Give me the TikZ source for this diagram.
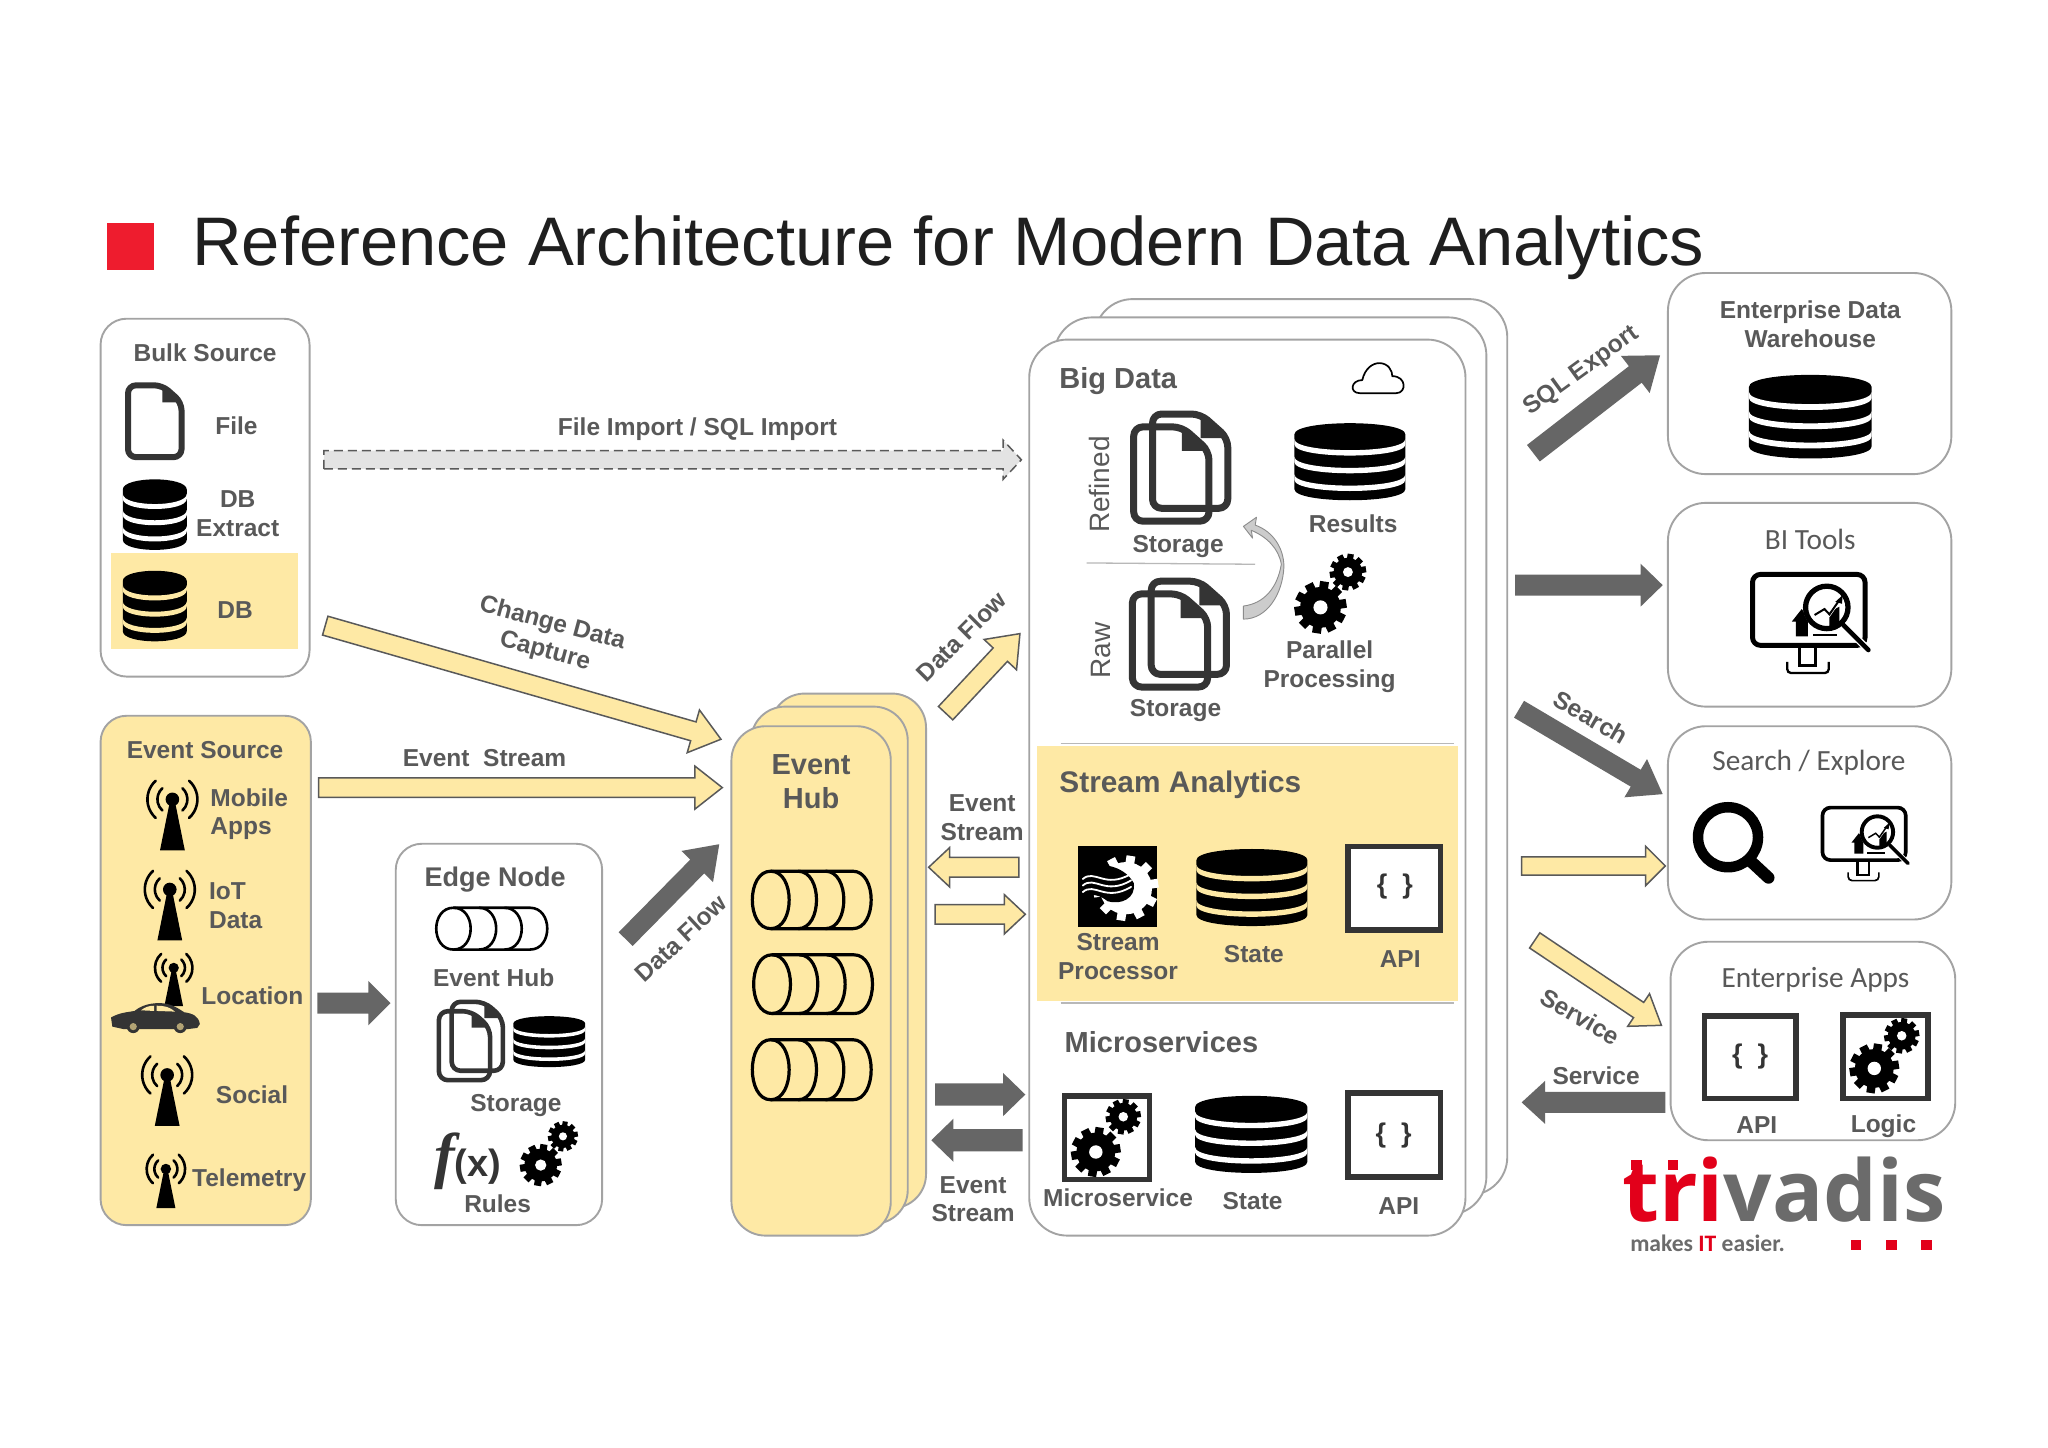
\documentclass[tikz,border=0pt]{standalone}
\usepackage{fontspec}
\setmainfont{Liberation Sans}
\newfontfamily\carl{Carlito}
\newfontfamily\osans{Open Sans}
\newfontfamily\fxserif{Liberation Serif}
\usetikzlibrary{calc}
\definecolor{ylw}{HTML}{FEE9A5}
\definecolor{lblgray}{HTML}{595959}
\definecolor{arrowgray}{HTML}{666666}
\definecolor{boxgray}{HTML}{A3A3A3}
\definecolor{iconblk}{HTML}{343434}
\definecolor{tvred}{HTML}{E2001A}
\definecolor{tvgray}{HTML}{6B6B6B}
\definecolor{ruddy}{HTML}{EE1C2E}
\tikzset{
  roundb/.style={draw=boxgray,line width=1.9pt,fill=white,rounded corners=26pt,inner sep=0pt,outer sep=0pt},
  roundy/.style={roundb,fill=ylw},
  stackb/.style={roundb,rounded corners=38pt},
  stacky/.style={roundy,rounded corners=34pt},
  plainy/.style={fill=ylw,draw=none,inner sep=0pt,outer sep=0pt},
  lbl/.style={font=\fontsize{24.5}{28.7}\selectfont\bfseries,text=lblgray,inner sep=0pt,align=center,yshift=-1.6pt},
  lblbig/.style={font=\fontsize{29}{34}\selectfont\bfseries,text=lblgray,inner sep=0pt,align=center,yshift=-2pt},
  lbllight/.style={font=\fontsize{29.3}{34}\selectfont\carl,text=lblgray,inner sep=0pt,align=center},
  darkarrow/.style={fill=arrowgray,draw=none},
  yelarrow/.style={fill=ylw,draw=lblgray,line width=1.5pt,line join=miter},
  dasharrow/.style={fill=black!11,draw=lblgray,line width=1.5pt,dash pattern=on 9pt off 5pt},
  apibox/.style={draw=iconblk,line width=5.5pt,fill=white,inner sep=0pt,outer sep=0pt},
  hairline/.style={draw=black!28,line width=1.3pt},
  bracelbl/.style={font=\fontsize{27}{30}\selectfont\bfseries,text=iconblk,inner sep=0pt},
}
\newcommand\U{1.30612}
% rounded box as a named node
\newcommand\boxn[6]{%
  \pgfmathsetmacro\bw{(#5-#3)*\U}\pgfmathsetmacro\bh{(#6-#4)*\U}%
  \node[#1,rectangle,minimum width=\bw pt,minimum height=\bh pt] (#2) at ({(#3+#5)/2},{(#4+#6)/2}) {};}
% block arrow between two named coordinates
\newcommand\barrow[6]{%
  \path let \p1=(#2),\p2=(#3),\n1={atan2(\y2-\y1,\x2-\x1)},\n2={veclen(\x2-\x1,\y2-\y1)} in
    \pgfextra{\xdef\bang{\n1}\xdef\blen{\n2}};%
  \pgfmathsetmacro\bsw{#4*.5*\U}\pgfmathsetmacro\bhw{#5*.5*\U}\pgfmathsetmacro\bhl{#6*\U}%
  \begin{scope}[shift={(#2)},rotate=\bang]
    \draw[#1] (0pt,-\bsw pt) -- (\blen-\bhl pt,-\bsw pt) -- (\blen-\bhl pt,-\bhw pt) -- (\blen,0pt)
      -- (\blen-\bhl pt,\bhw pt) -- (\blen-\bhl pt,\bsw pt) -- (0pt,\bsw pt) -- cycle;
  \end{scope}}
% database icon
\newcommand\dbicon[5]{%
  \pgfmathsetmacro\dW{#3-#1}\pgfmathsetmacro\dH{#4-#2}\pgfmathsetmacro\dry{.145*\dH}%
  \pgfmathsetmacro\dk{1.333*\dry}\pgfmathsetmacro\dt{#2+\dry}\pgfmathsetmacro\db{#4-\dry}%
  \fill[black] (#1,\dt) -- (#1,\db) .. controls (#1,\db+\dk) and (#3,\db+\dk) .. (#3,\db)
     -- (#3,\dt) .. controls (#3,\dt-\dk) and (#1,\dt-\dk) .. (#1,\dt) -- cycle;
  \foreach \fr in {.205,.435,.665}{%
    \pgfmathsetmacro\ya{#2+\fr*\dH}\pgfmathsetmacro\yb{\ya+.07*\dH}%
    \fill[#5] (#1,\ya) .. controls (#1,\ya+\dk) and (#3,\ya+\dk) .. (#3,\ya) -- (#3,\yb)
       .. controls (#3,\yb+\dk) and (#1,\yb+\dk) .. (#1,\yb) -- cycle;}}
% single document
\newcommand\docshape[6]{%
  \pgfmathsetmacro\dfx{#3-.36*(#3-#1)}\pgfmathsetmacro\dfy{#2+.32*(#3-#1)}%
  \fill[iconblk] (\dfx,#2) -- (#3,\dfy) -- (\dfx,\dfy) -- cycle;
  \draw[iconblk,line width=#5pt,rounded corners=#6pt,line join=round] (#1,#2) -- (\dfx,#2) -- (#3,\dfy) -- (#3,#4) -- (#1,#4) -- cycle;}
\newcommand\docsicon[5]{%
  \pgfmathsetmacro\ddW{#3-#1}\pgfmathsetmacro\ddH{#4-#2}%
  \pgfmathsetmacro\bxa{#1+.2*\ddW}\pgfmathsetmacro\byb{#4-.12*\ddH}\pgfmathsetmacro\fxb{#3-.2*\ddW}\pgfmathsetmacro\fya{#2+.12*\ddH}%
  \docshape{\bxa}{#2}{#3}{\byb}{#5}{9}%
  \docshape{#1}{\fya}{\fxb}{#4}{#5}{9}}
% antenna
\newcommand\antenna[3]{%
  \begin{scope}[shift={(#1,#2)},scale=#3]
    \fill[black] (-9.5,39) -- (-1.6,0) -- (1.6,0) -- (9.5,39) -- cycle;
    \fill[black] (0,0) circle[radius=6.8pt];
    \foreach \rr in {15pt,25pt}{%
      \draw[black,line width=2.6pt,line cap=round] (0,0) ++(48:\rr) arc[start angle=48,end angle=-48,radius=\rr];
      \draw[black,line width=2.6pt,line cap=round] (0,0) ++(132:\rr) arc[start angle=132,end angle=228,radius=\rr];}
  \end{scope}}
% gear
\newcommand\gearicon[4]{%
  \pgfmathsetmacro\gR{#3*\U}\pgfmathsetmacro\gB{.78*\gR}\pgfmathsetmacro\gH{.27*\gR}\pgfmathsetmacro\gT{.34*\gR}%
  \fill[black] (#1,#2) circle[radius=\gB pt];
  \foreach \a in {0,36,...,324}{\draw[black,line width=\gT pt] (#1,#2) -- ++(\a+9:\gR pt);}
  \fill[#4] (#1,#2) circle[radius=\gH pt];}
% tube
\newcommand\tubeicon[5]{%
  \pgfmathsetmacro\tW{#3-#1}\pgfmathsetmacro\trx{.155*\tW}\pgfmathsetmacro\tk{1.333*\trx}\pgfmathsetmacro\tst{.23*\tW}%
  \pgfmathsetmacro\tc{#1+\trx}\pgfmathsetmacro\tcc{\tc+3*\tst}%
  \draw[black,line width=#5pt] (\tcc,#2) -- (\tc,#2) .. controls (\tc-\tk,#2) and (\tc-\tk,#4) .. (\tc,#4) -- (\tcc,#4);
  \foreach \i in {0,1,2,3}{%
    \pgfmathsetmacro\tcx{\tc+\i*\tst}%
    \draw[black,line width=#5pt] (\tcx,#2) .. controls (\tcx+\tk,#2) and (\tcx+\tk,#4) .. (\tcx,#4);}}
% monitor with magnifier
\newcommand\monicon[3]{%
  \pgfmathsetmacro\mlw{#3*\U}%
  \begin{scope}[shift={(#1,#2)},scale=#3]
    \draw[black,line width=15*\mlw pt,rounded corners=8pt] (7,7) rectangle (348,222);
    \draw[black,line width=10*\mlw pt] (150,228) -- (150,282) -- (197,282) -- (197,228);
    \draw[black,line width=7*\mlw pt,rounded corners=4pt] (112,272) -- (112,306) -- (238,306) -- (238,272);
    \fill[black] (138,195) -- (138,150) -- (126,150) -- (156,112) -- (175,135) -- (175,195) -- cycle;
    \fill[black] (190,188) rectangle (262,195);
    \fill[white] (232,107) circle[radius=93pt];
    \draw[black,line width=16*\mlw pt] (232,107) circle[radius=84pt];
    \fill[black] (240,165) -- (240,120) -- (270,105) -- (270,165) -- cycle;
    \draw[white,line width=10*\mlw pt] (195,130) -- (225,112) -- (240,128) -- (270,85);
    \draw[black,line width=6*\mlw pt] (195,130) -- (225,112) -- (240,128) -- (270,85);
    \fill[black] (258,90) -- (280,70) -- (278,96) -- cycle;
    \draw[white,line width=22*\mlw pt] (282,160) -- (358,236);
    \draw[black,line width=14*\mlw pt,line cap=round] (282,160) -- (358,236);
  \end{scope}}
\begin{document}
\begin{tikzpicture}[x=1.30612pt,y=-1.30612pt]
\useasboundingbox (0,0) rectangle (1568,1107.9);
\fill[white] (0,0) rectangle (1568,1107.9);
%%% title
\fill[ruddy] (82,171) rectangle (118,207);
\node[anchor=base west,inner sep=0pt,font=\fontsize{68.7}{80}\selectfont,text=black!88] (title) at (147,203) {Reference Architecture for Modern Data Analytics};
%%% bulk source
\boxn{roundb}{bulk}{77}{244}{237}{518}
\node[lbl] (bulkt) at (157,269) {Bulk Source};
\docshape{98}{295}{139}{350}{6}{8}
\node[lbl] (filet) at (181,325) {File};
\dbicon{94}{367}{143}{421}{white}
\node[lbl] (dbext) at (182,392) {DB\\Extract};
\boxn{plainy}{dbhl}{85}{423}{228}{497}
\dbicon{94}{437}{143}{491}{ylw}
\node[lbl] (dbt) at (180,466) {DB};
%%% event source
\boxn{roundy}{evsrc}{77}{548}{238}{938}
\node[lbl] (evsrct) at (157,573) {Event Source};
\antenna{132}{612}{1}
\node[lbl,anchor=west,align=left] (mobile) at (161,622) {Mobile\\Apps};
\antenna{130}{681}{1}
\node[lbl,anchor=west,align=left] (iot) at (160,692) {IoT\\Data};
\antenna{133}{741}{.75}
\node[lbl,anchor=west] (loc) at (154,761) {Location};
% car
\fill[iconblk] (86,786) -- (85,779) .. controls (92,775) and (98,775) .. (103,774) .. controls (108,770) and (114,768) .. (122,768)
  .. controls (130,768) and (135,771) .. (141,775) .. controls (148,776) and (152,778) .. (153,784) -- (151,787) -- (143,788) -- (95,788) -- cycle;
\fill[ylw] (108,773.5) .. controls (111,771) and (114,770) .. (118,770) -- (118,774) -- cycle;
\fill[ylw] (120,770) .. controls (126,770) and (130,771) .. (134,774.5) -- (120,774) -- cycle;
\foreach \wx in {102,138}{\fill[iconblk] (\wx,786) circle[radius=6.5pt]; \fill[ylw!70!black] (\wx,786) circle[radius=3.6pt];}
\antenna{128}{823}{1}
\node[lbl] (social) at (193,837) {Social};
\antenna{127}{895}{.77}
\node[lbl,anchor=west] (telem) at (147,902) {Telemetry};
%%% edge node
\boxn{roundb}{edge}{303}{646}{461}{938}
\node[lbl,font=\fontsize{27}{32}\selectfont\bfseries] (edget) at (379,672) {Edge Node};
\tubeicon{334}{695}{419}{727}{2.6}
\node[lbl] (ehubt) at (378,747) {Event Hub};
\docsicon{336}{767}{385}{827}{4.6}
\dbicon{393}{778}{448}{817}{white}
\node[lbl] (estor) at (395,845) {Storage};
\node[anchor=center,inner sep=0pt,text=iconblk] (fx) at (358,889) {{\fontsize{62}{62}\selectfont\fxserif\itshape\bfseries f}{\fontsize{38}{38}\selectfont\bfseries(x)}};
\gearicon{414}{892}{16}{white}
\gearicon{431}{870}{11.5}{white}
\node[lbl] (rules) at (381,920) {Rules};
%%% event hub stack
\boxn{stacky}{hub3}{590}{531}{709}{925}
\boxn{stacky}{hub2}{575}{541}{695}{937}
\boxn{stacky}{hub1}{560}{556}{682}{946}
\node[lbl,font=\fontsize{29}{34}\selectfont\bfseries] (hubt) at (621,597) {Event\\Hub};
\tubeicon{576}{667}{667}{711}{3.2}
\tubeicon{577}{731}{668}{776}{3.2}
\tubeicon{576}{796}{667}{842}{3.2}
%%% big data stack
\boxn{stackb}{big3}{838}{229}{1154}{915}
\boxn{stackb}{big2}{807}{243}{1138}{930}
\boxn{stackb}{big1}{788}{260}{1122}{946}
\node[lblbig,anchor=west] (bigt) at (811,290) {Big Data};
\draw[black,line width=1.7pt,line join=round] (1041,301) .. controls (1033,301) and (1034,291) .. (1043,291) .. controls (1045,282) and (1051,278) .. (1056,278)
  .. controls (1063,278) and (1066,284) .. (1066,288) .. controls (1077,288) and (1077,301) .. (1069,301) -- cycle;
\node[font=\fontsize{28}{32}\selectfont,text=lblgray,rotate=90,inner sep=0pt] (refined) at (842,371) {Refined};
\docsicon{868}{317}{940}{399}{7}
\dbicon{991}{324}{1076}{383}{white}
\node[lbl] (results) at (1036,400) {Results};
\node[lbl] (stor1) at (902,417) {Storage};
\coordinate (rulea) at (832,431); \coordinate (ruleb) at (961,432);
\draw[hairline] (rulea) -- (ruleb);
\draw[fill=black!20,draw=black!45,line width=.9pt,line join=round] (952,464) .. controls (968,462) and (978,450) .. (981,432)
  .. controls (979,420) and (970,411) .. (958,406) -- (959,412) -- (952,403) -- (962,396) -- (961,402)
  .. controls (975,407) and (983,420) .. (983,434) .. controls (982,455) and (970,474) .. (952,474) -- cycle;
\gearicon{1011}{465}{20}{white}
\gearicon{1032}{438}{14}{white}
\node[lbl] (parallel) at (1018,509) {Parallel\\Processing};
\node[font=\fontsize{28}{32}\selectfont,text=lblgray,rotate=90,inner sep=0pt] (raw) at (843,498) {Raw};
\docsicon{867}{445}{939}{526}{7}
\node[lbl] (stor2) at (900,543) {Storage};
% stream analytics
\coordinate (linea) at (812,569); \coordinate (lineb) at (1113,569);
\draw[hairline] (linea) -- (lineb);
\boxn{plainy}{streamhl}{794}{571}{1116}{766}
\coordinate (linec) at (812,768); \coordinate (lined) at (1113,768);
\draw[hairline] (linec) -- (lined);
\node[lblbig,anchor=west,font=\fontsize{29.8}{34}\selectfont\bfseries] (streamt) at (811,599) {Stream Analytics};
\fill[black] (825,648) rectangle (886,710);
\begin{scope}
  \pgfmathsetmacro\gR{25*\U}\pgfmathsetmacro\gB{.8*\gR}\pgfmathsetmacro\gT{.27*\gR}
  \fill[white] (862,680) circle[radius=\gB pt];
  \foreach \a in {0,36,...,324}{\draw[white,line width=\gT pt] (862,680) -- ++(\a+9:\gR pt);}
\end{scope}
\fill[black] (829,664) .. controls (842,660) and (860,662) .. (868,676) .. controls (870,688) and (858,693) .. (848,690) .. controls (842,685) and (835,684) .. (829,686) -- cycle;
\foreach \dy in {0,5,10}{\draw[white,line width=1.8pt,line cap=round] (829,{673+\dy}) .. controls (838,{665+\dy}) and (846,{681+\dy}) .. (866,{669+\dy});}
\node[lbl] (sproc) at (856,731) {Stream\\Processor};
\dbicon{916}{650}{1001}{709}{ylw}
\node[lbl] (state1) at (960,729) {State};
\boxn{apibox}{api1}{1032}{648}{1103}{712}
\node[bracelbl] (brace1) at (1068,679) {\{\ \ \}};
\node[lbl] (apit1) at (1072,733) {API};
% microservices
\node[lblbig,anchor=west] (microt) at (815,796) {Microservices};
\boxn{apibox}{ms}{815}{839}{880}{903}
\gearicon{839}{882}{19}{white}
\gearicon{860}{855}{13.5}{white}
\dbicon{915}{839}{1001}{898}{white}
\boxn{apibox}{api2}{1032}{837}{1103}{901}
\node[bracelbl] (brace2) at (1067,869) {\{\ \ \}};
\node[lbl] (mst) at (856,916) {Microservice};
\node[lbl] (state2) at (959,918) {State};
\node[lbl] (apit2) at (1071,922) {API};
%%% right boxes
\boxn{stackb}{edw}{1277}{209}{1494}{363}
\node[lbl] (edwt) at (1386,247) {Enterprise Data\\Warehouse};
\dbicon{1339}{287}{1433}{351}{white}
\boxn{stackb}{bi}{1277}{385}{1494}{541}
\node[lbllight] (bit) at (1386,413) {BI Tools};
\monicon{1340}{438}{.2527}
\boxn{stackb}{search}{1277}{556}{1494}{704}
\node[lbllight] (searcht) at (1385,584) {Search / Explore};
\draw[black,line width=10.5pt] (1323,641) circle[radius=30pt];
\coordinate (maga) at (1340,659); \coordinate (magb) at (1354,672);
\draw[black,line width=12pt,line cap=round] (maga) -- (magb);
\monicon{1394}{617}{.187}
\boxn{stackb}{apps}{1279}{721}{1497}{873}
\node[lbllight] (appst) at (1390,750) {Enterprise Apps};
\boxn{apibox}{api3}{1305}{778}{1375}{841}
\node[bracelbl] (brace3) at (1340,809) {\{\ \ \}};
\boxn{apibox}{logic}{1411}{777}{1476}{841}
\gearicon{1435}{818}{19}{white}
\gearicon{1456}{793}{13.5}{white}
\node[lbl] (apit3) at (1345,860) {API};
\node[lbl] (logict) at (1442,861) {Logic};
%%% arrows
\coordinate (a1s) at (248,352); \coordinate (a1e) at (782,352);
\barrow{dasharrow}{a1s}{a1e}{14}{30}{14}
\node[lbl] (impt) at (534,327) {File Import / SQL Import};
\coordinate (a2s) at (249,479); \coordinate (a2e) at (552,566);
\barrow{yelarrow}{a2s}{a2e}{15}{34}{22}
\node[lbl,rotate=-15] (cdc) at (420,487) {Change Data\\Capture};
\coordinate (a3s) at (244,603); \coordinate (a3e) at (553,603);
\barrow{yelarrow}{a3s}{a3e}{15}{33}{21}
\node[lbl] (est) at (371,579) {Event\ \ Stream};
\coordinate (a4s) at (243,768); \coordinate (a4e) at (299,768);
\barrow{darkarrow}{a4s}{a4e}{16}{34}{17}
\coordinate (a5s) at (479,719); \coordinate (a5e) at (551,646);
\barrow{darkarrow}{a5s}{a5e}{15}{34}{24}
\node[lbl,rotate=43] (df1) at (521,717) {Data Flow};
\coordinate (a6s) at (724,546); \coordinate (a6e) at (781,485);
\barrow{yelarrow}{a6s}{a6e}{15}{34}{22}
\node[lbl,rotate=45] (df2) at (736,486) {Data Flow};
\node[lbl] (es1) at (752,625) {Event\\Stream};
\coordinate (a7s) at (780,664); \coordinate (a7e) at (711,664);
\barrow{yelarrow}{a7s}{a7e}{15}{30}{16}
\coordinate (a8s) at (716,700); \coordinate (a8e) at (785,700);
\barrow{yelarrow}{a8s}{a8e}{15}{30}{16}
\coordinate (a9s) at (716,838); \coordinate (a9e) at (785,838);
\barrow{darkarrow}{a9s}{a9e}{17}{33}{17}
\coordinate (a10s) at (783,873); \coordinate (a10e) at (713,873);
\barrow{darkarrow}{a10s}{a10e}{17}{33}{17}
\node[lbl] (es2) at (745,917) {Event\\Stream};
\coordinate (a11s) at (1174,347); \coordinate (a11e) at (1271,272);
\barrow{darkarrow}{a11s}{a11e}{16}{36}{24}
\node[lbl,rotate=36] (sqlt) at (1211,283) {SQL Export};
\coordinate (a12s) at (1160,448); \coordinate (a12e) at (1273,448);
\barrow{darkarrow}{a12s}{a12e}{16}{33}{17}
\coordinate (a13s) at (1163,543); \coordinate (a13e) at (1273,608);
\barrow{darkarrow}{a13s}{a13e}{15}{34}{24}
\node[lbl,rotate=-30] (srcht) at (1218,548) {Search};
\coordinate (a14s) at (1165,663); \coordinate (a14e) at (1275,663);
\barrow{yelarrow}{a14s}{a14e}{14}{30}{15}
\coordinate (a15s) at (1175,720); \coordinate (a15e) at (1272,785);
\barrow{yelarrow}{a15s}{a15e}{14}{30}{21}
\node[lbl,rotate=-30] (svc1) at (1210,777) {Service};
\node[lbl] (svc2) at (1222,822) {Service};
\coordinate (a16s) at (1275,844); \coordinate (a16e) at (1165,844);
\barrow{darkarrow}{a16s}{a16e}{16}{33}{18}
%%% logo
\node[anchor=base west,inner sep=0pt,font=\fontsize{85}{90}\selectfont\osans\bfseries] (logo) at (1242,935) {\textcolor{tvred}{tri}\textcolor{tvgray}{vadis}};
\fill[tvred] (1249,888) rectangle (1257,896);
\fill[tvred] (1277,888) rectangle (1285,896);
\node[anchor=base west,inner sep=0pt,font=\fontsize{23.6}{26}\selectfont\carl\bfseries,text=tvgray] (slogan) at (1248,958) {makes \textcolor{tvred}{IT} easier.};
\fill[tvred] (1417,949) rectangle (1425,957);
\fill[tvred] (1444,949) rectangle (1452,957);
\fill[tvred] (1471,949) rectangle (1479,957);
\end{tikzpicture}
\end{document}
